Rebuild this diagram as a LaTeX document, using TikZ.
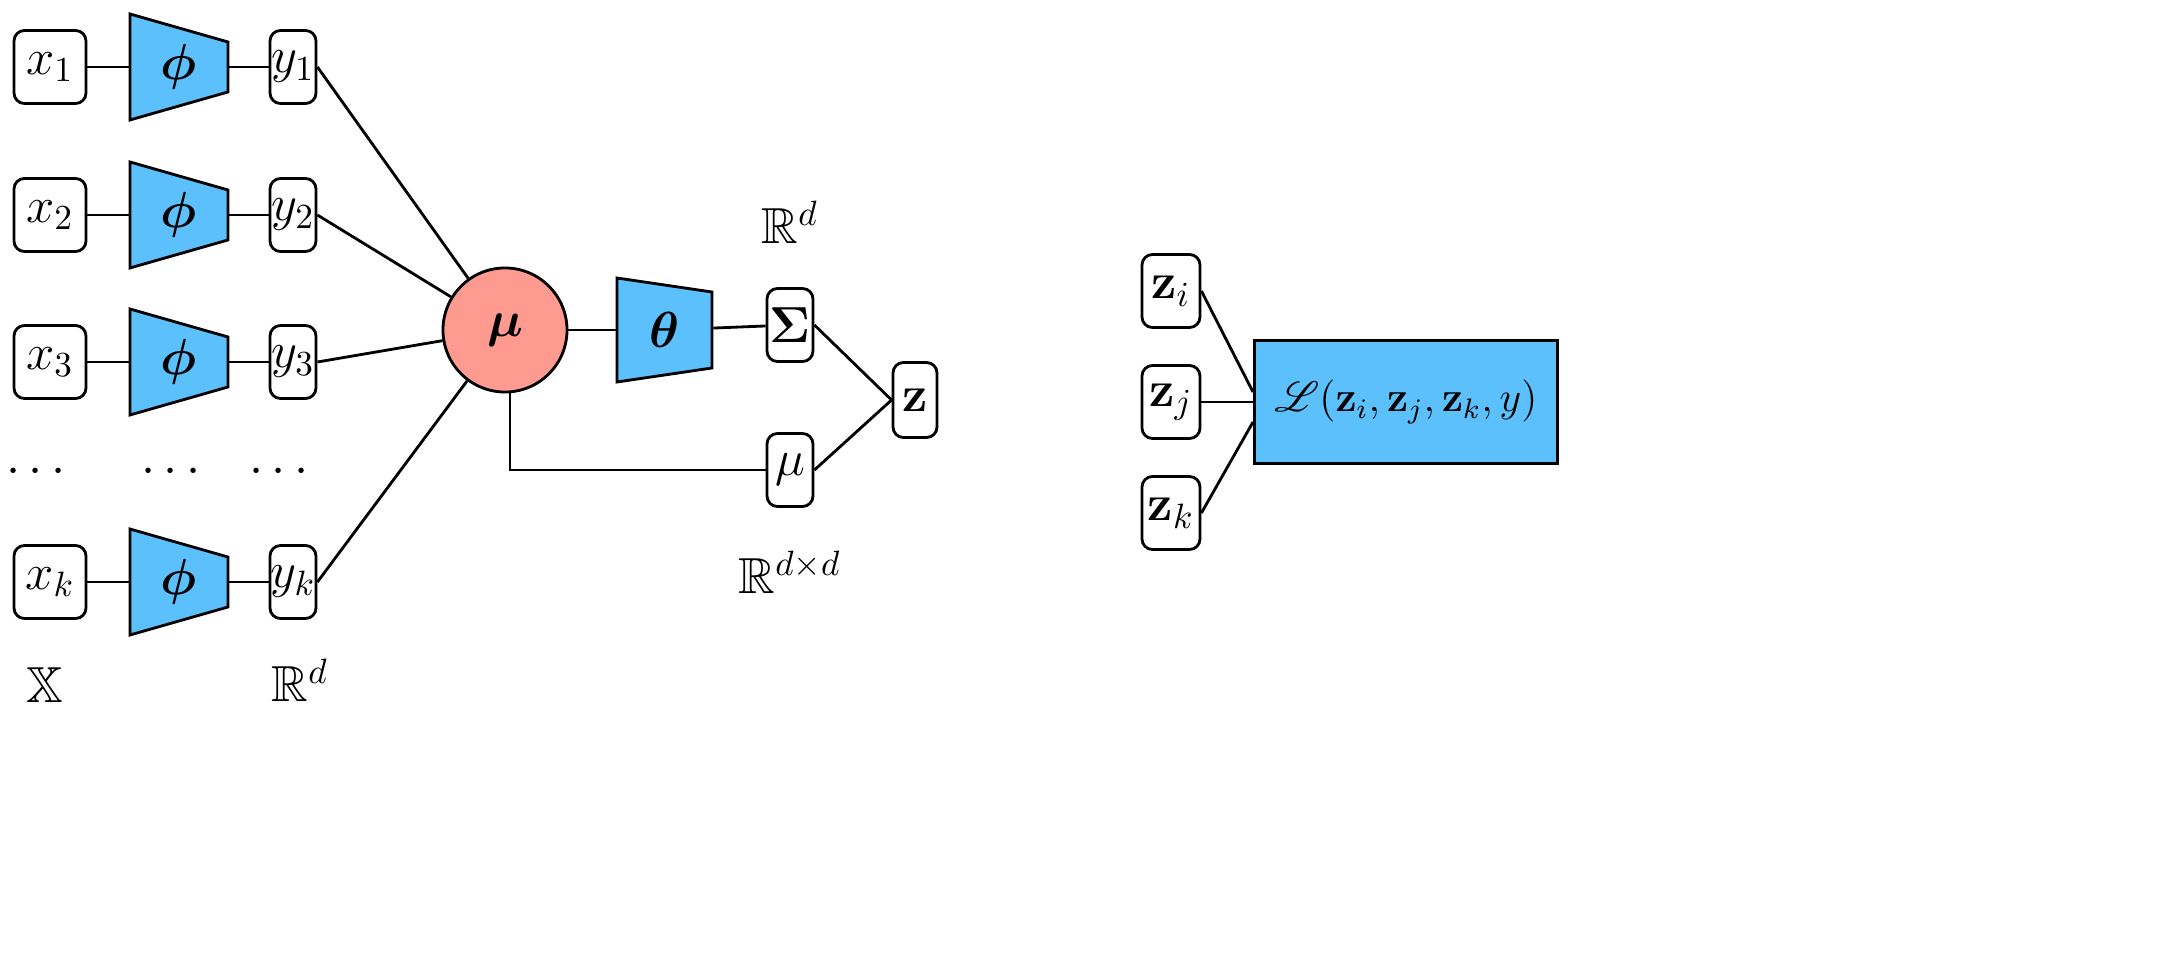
\documentclass[tikz,border=0pt]{standalone}
\usepackage{amsmath,amssymb,bm,mathrsfs}
\definecolor{netblue}{HTML}{5BC0FB}
\definecolor{mured}{HTML}{FF9A90}
\begin{document}
\begin{tikzpicture}[x=0.01cm,y=-0.01cm,line width=0.8pt,
  box/.style={draw,rounded corners=3pt,fill=white,inner sep=0pt,font=\Large},
  net/.style={fill=netblue,draw},
  lbl/.style={font=\Large},
  nb/.style={box,minimum width=0.46cm,minimum height=0.73cm},
  zb/.style={box,minimum width=0.58cm,minimum height=0.73cm}]
\foreach \r/\yy/\s in {1/67/1,2/215/2,3/362/3,k/582/k}{
  \node[box,minimum width=0.72cm,minimum height=0.73cm] (x\r) at (50,\yy) {$x_{\s}$};
  \draw[net] (130,\yy-53) -- (228,\yy-25) -- (228,\yy+25) -- (130,\yy+53) -- cycle;
  \node[draw=none,minimum width=0.98cm,minimum height=0.5cm,inner sep=0pt,font=\Large] (p\r) at (179,\yy) {$\bm{\phi}$};
  \node[nb] (y\r) at (293,\yy) {$y_{\s}$};
  \draw (x\r) -- (p\r) (p\r) -- (y\r);
}
\node[lbl] (d1) at (40,472) {$\cdots$};
\node[lbl] (d2) at (175,472) {$\cdots$};
\node[lbl] (d3) at (283,472) {$\cdots$};
\node[circle,draw,fill=mured,minimum size=1.24cm,font=\Large] (mu) at (505,330) {$\bm{\mu}$};
\foreach \r in {1,2,3,k}{\draw (y\r.east) -- (mu);}
\draw[net] (617,278) -- (712,292) -- (712,368) -- (617,382) -- cycle;
\node[draw=none,minimum width=0.95cm,minimum height=0.76cm,inner sep=0pt,font=\Large] (th) at (664.5,330) {$\bm{\theta}$};
\draw (mu) -- (th);
\node[nb] (sig) at (790,325) {$\boldsymbol{\Sigma}$};
\node[nb] (mub) at (790,470) {$\mu$};
\node[box,minimum width=0.44cm,minimum height=0.75cm] (z) at (915,400) {$\mathbf{z}$};
\draw (th) -- (sig);
\coordinate (mus) at ([xshift=0.05cm]mu.south);
\draw (mus) |- (mub.west);
\draw (sig.east) -- (z.west);
\draw (mub.east) -- (z.west);
\node[lbl] (r1) at (790,222) {$\mathbb{R}^d$};
\node[lbl] (r2) at (790,572) {$\mathbb{R}^{d\times d}$};
\node[lbl] (X) at (45,685) {$\mathbb{X}$};
\node[lbl] (r3) at (300,680) {$\mathbb{R}^d$};
\node[zb] (zi) at (1171,291) {$\mathbf{z}_i$};
\node[zb] (zj) at (1171,402) {$\mathbf{z}_j$};
\node[zb] (zk) at (1171,513) {$\mathbf{z}_k$};
\node[draw,fill=netblue,minimum width=3.03cm,minimum height=1.23cm,inner sep=0pt,font=\large] (L) at (1406,402) {$\mathscr{L}(\mathbf{z}_i,\mathbf{z}_j,\mathbf{z}_k,y)$};
\draw (zi.east) -- ([yshift=0.1cm]L.west);
\draw (zj.east) -- (L.west);
\draw (zk.east) -- ([yshift=-0.2cm]L.west);
\pgfresetboundingbox
\path[use as bounding box] (0,0) rectangle (2159,979);
\end{tikzpicture}
\end{document}
